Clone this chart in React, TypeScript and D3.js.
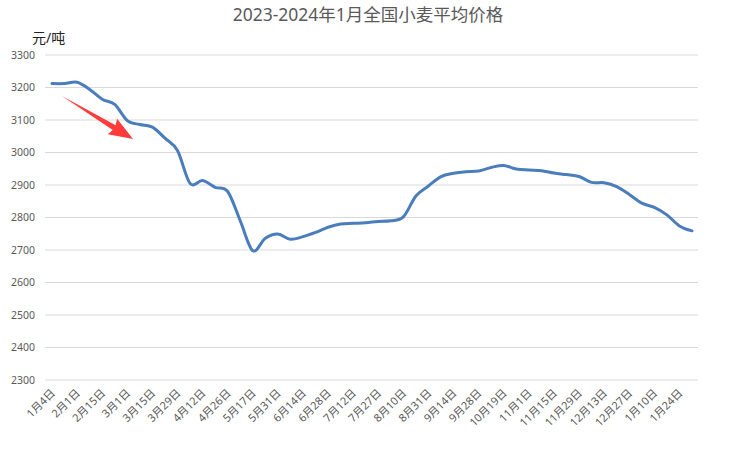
import React from "react";
import * as d3 from "d3";

const categories: string[] = [
  "1月4日", "1月11日", "2月1日", "2月8日", "2月15日", "2月22日", "3月1日", "3月8日",
  "3月15日", "3月22日", "3月29日", "4月5日", "4月12日", "4月19日", "4月26日", "5月10日",
  "5月17日", "5月24日", "5月31日", "6月7日", "6月14日", "6月21日", "6月28日", "7月5日",
  "7月12日", "7月19日", "7月27日", "8月3日", "8月10日", "8月24日", "8月31日", "9月7日",
  "9月14日", "9月21日", "9月28日", "10月11日", "10月19日", "10月25日", "11月1日", "11月8日",
  "11月15日", "11月22日", "11月29日", "12月6日", "12月13日", "12月20日", "12月27日", "1月3日",
  "1月10日", "1月17日", "1月24日", "1月31日",
];

const prices: number[] = [
  3212, 3212, 3216, 3194, 3164, 3148, 3098, 3086,
  3078, 3044, 3006, 2905, 2914, 2893, 2880, 2790,
  2698, 2736, 2749, 2733, 2741, 2754, 2770, 2780,
  2782, 2784, 2788, 2790, 2802, 2866, 2897, 2926,
  2936, 2941, 2943, 2954, 2960, 2949, 2946, 2944,
  2937, 2932, 2926, 2908, 2907, 2895, 2871, 2844,
  2831, 2808, 2774, 2759,
];

const yTicks: number[] = [2300, 2400, 2500, 2600, 2700, 2800, 2900, 3000, 3100, 3200, 3300];

const title = "2023-2024年1月全国小麦平均价格";
const unitLabel = "元/吨";

const W = 730;
const H = 453;
const FONT = "'Noto Sans', 'Noto Sans CJK SC', sans-serif";

export default function App() {
  const x = d3.scalePoint<string>().domain(categories).range([52, 692]);
  const y = d3.scaleLinear().domain([2300, 3300]).range([380, 55]);

  const line = d3
    .line<number>()
    .x((_, i) => x(categories[i]) as number)
    .y((d) => y(d))
    .curve(d3.curveCardinal.tension(0));

  const pathD = line(prices) || "";

  // arrow annotation geometry
  const tail: [number, number] = [62, 96];
  const tip: [number, number] = [133, 139];
  const dx = tip[0] - tail[0];
  const dy = tip[1] - tail[1];
  const len = Math.hypot(dx, dy);
  const ux = dx / len, uy = dy / len;
  const nx = -uy, ny = ux;
  const headLen = 22;
  const bx = tip[0] - headLen * ux, by = tip[1] - headLen * uy;
  const shaftW = 2.8, wingW = 9;
  const arrowPts: [number, number][] = [
    [tail[0], tail[1]],
    [bx - shaftW * nx, by - shaftW * ny],
    [bx - wingW * nx - 2 * ux, by - wingW * ny - 2 * uy],
    [tip[0], tip[1]],
    [bx + wingW * nx - 2 * ux, by + wingW * ny - 2 * uy],
    [bx + shaftW * nx, by + shaftW * ny],
  ];

  return (
    <svg
      width={W}
      height={H}
      style={{ position: "absolute", left: 0, top: 0, background: "#fff" }}
      fontFamily={FONT}
    >
      <rect x={0} y={0} width={W} height={H} fill="#fff" />
      <text x={368} y={21} textAnchor="middle" fontSize={17.5} fill="#595959">
        {title}
      </text>
      <text x={32} y={43} fontSize={14} fill="#222">
        {unitLabel}
      </text>
      {yTicks.map((t) => (
        <g key={t}>
          <line x1={45} x2={698} y1={y(t)} y2={y(t)} stroke="#d9d9d9" strokeWidth={1} />
          <text x={35} y={y(t)} dy="0.35em" textAnchor="end" fontSize={10.5} fill="#595959">
            {t}
          </text>
        </g>
      ))}
      {categories.map((c, i) =>
        i % 2 === 0 ? (
          <text
            key={c + i}
            transform={`translate(${(x(c) as number) + 1},${391}) rotate(-45)`}
            textAnchor="end"
            dy="0.35em"
            fontSize={11}
            fill="#595959"
          >
            {c}
          </text>
        ) : null
      )}
      <path d={pathD} fill="none" stroke="#4a7dbb" strokeWidth={3} strokeLinejoin="round" strokeLinecap="round" />
      <polygon points={arrowPts.map((p) => p.join(",")).join(" ")} fill="#ff3b3b" />
    </svg>
  );
}
